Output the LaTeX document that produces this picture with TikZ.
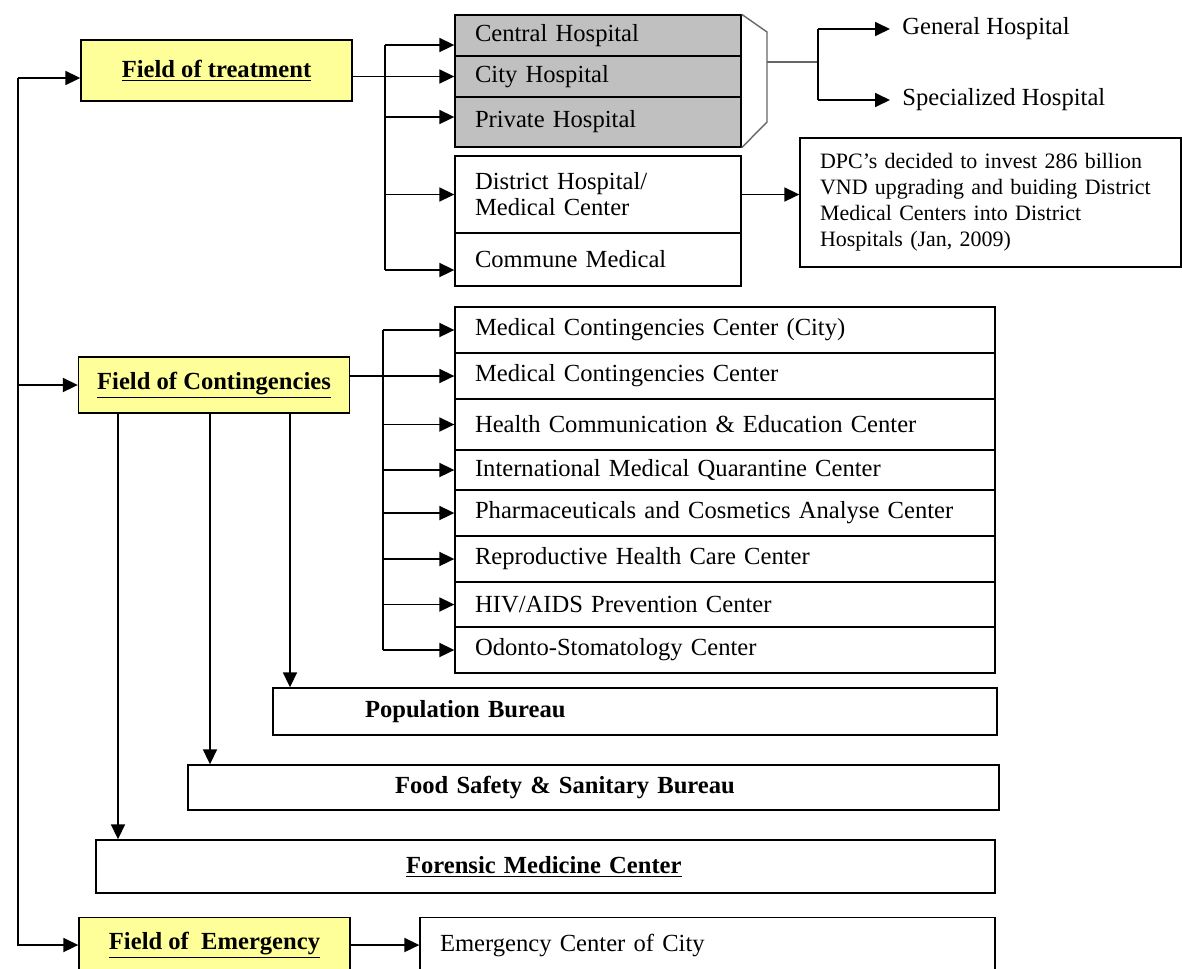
\documentclass[tikz,border=0pt]{standalone}
\usepackage{fontspec}
\setmainfont{Liberation Serif}
\usepackage{xcolor}
\usepackage{tikz}
\usetikzlibrary{arrows.meta}
\definecolor{fieldyellow}{HTML}{FFFF99}
\definecolor{hospgray}{HTML}{C0C0C0}

\begin{document}
\begin{tikzpicture}[x=0.02cm, y=-0.02cm,
    box/.style={draw, rectangle, line width=0.8pt, inner ysep=0pt, font=\fontsize{14}{14.8}\selectfont},
    field/.style={box, fill=fieldyellow, minimum width=5.42cm, font=\fontsize{14}{15}\selectfont\bfseries},
    rowbox/.style={box, inner xsep=0.4cm, align=left},
    bureau/.style={box, align=left, font=\fontsize{14}{15}\selectfont\bfseries},
    arr/.style={-{Triangle[length=3mm,width=2.8mm]}, line width=1pt},
    brace/.style={draw=black!60, line width=0.8pt}]
    \useasboundingbox (0,0) rectangle (1182,968);

    % the three fields
    \node[field, minimum height=1.22cm] (treat) at (216.5,70.5) {\underline{Field of treatment}};
    \node[field, minimum height=1.12cm] (cont) at (214,385) {\underline{Field of Contingencies}};
    \node[field, minimum height=1.1cm] (emer) at (214.5,945) {\underline{Field of\ \ Emergency}};

    % hospitals
    \node[rowbox, fill=hospgray, text width=4.92cm, minimum height=0.82cm] (central) at (598,35.5) {Central Hospital};
    \node[rowbox, fill=hospgray, text width=4.92cm, minimum height=0.82cm] (city) at (598,76.5) {City Hospital};
    \node[rowbox, fill=hospgray, text width=4.92cm, minimum height=1.0cm] (private) at (598,122) {Private Hospital};
    \node[rowbox, text width=4.92cm, minimum height=1.54cm] (district) at (598,194.5) {District Hospital/\\Medical Center};
    \node[rowbox, text width=4.92cm, minimum height=1.06cm] (commune) at (598,259.5) {Commune Medical};

    \node[anchor=west, inner xsep=0.24cm, font=\fontsize{14}{15}\selectfont] (gen) at (890,29) {General Hospital};
    \node[anchor=west, inner xsep=0.24cm, font=\fontsize{14}{15}\selectfont] (spec) at (890,100) {Specialized Hospital};

    \node[rowbox, text width=6.82cm, minimum height=2.58cm, font=\fontsize{12.5}{14.8}\selectfont] (dpc) at (990.5,202.5)
        {DPC’s decided to invest 286 billion\\VND upgrading and buiding District\\Medical Centers into District\\Hospitals (Jan, 2009)};

    % centers under contingencies
    \foreach \i/\y/\h/\t in {1/330/0.92/{Medical Contingencies Center (City)},
                             2/376/0.92/{Medical Contingencies Center},
                             3/424.5/1.02/{Health Communication \& Education Center},
                             4/470/0.80/{International Medical Quarantine Center},
                             5/513/0.92/{Pharmaceuticals and Cosmetics Analyse Center},
                             6/559/0.92/{Reproductive Health Care Center},
                             7/604.5/0.90/{HIV/AIDS Prevention Center},
                             8/650/0.92/{Odonto-Stomatology Center}}
        \node[rowbox, text width=10cm, minimum height=\h cm] (c\i) at (725,\y) {\t};

    \node[bureau, text width=10.8cm, inner xsep=1.84cm, minimum height=0.94cm] (popb) at (635,711.5) {Population Bureau};
    \node[bureau, text width=7.94cm, inner xsep=4.14cm, minimum height=0.9cm] (food) at (593.5,787.5) {Food Safety \& Sanitary Bureau};
    \node[bureau, text width=5.58cm, inner xsep=6.2cm, minimum height=1.06cm] (foren) at (545.5,866.5) {\underline{Forensic Medicine Center}};
    \node[rowbox, text width=10.7cm, minimum height=1.1cm] (ecity) at (707.5,945) {Emergency Center of City};

    % left trunk
    \coordinate (trunk) at (18,78);
    \draw[arr] (trunk) -- (trunk -| treat.west);
    \draw[arr] (trunk |- cont.west) -- (cont.west);
    \draw[arr] (trunk) |- (emer.west);

    % treatment bus
    \coordinate (tbus) at (385,0);
    \coordinate (centralin) at ([yshift=-0.19cm]central.west);
    \coordinate (privatein) at ([yshift=0.1cm]private.west);
    \coordinate (communein) at ([yshift=-0.21cm]commune.west);
    \draw[line width=1pt] (treat.east |- city.west) -- (city.west -| tbus);
    \draw[line width=1pt] (centralin -| tbus) -- (communein -| tbus);
    \foreach \n in {centralin, city.west, privatein, district.west, communein}
        \draw[arr] (\n -| tbus) -- (\n);

    % brace to hospital types
    \coordinate (bt) at (767,32);
    \coordinate (bb) at (767,122);
    \coordinate (brace) at (767,62);
    \coordinate (fork) at (818,62);
    \draw[brace] (central.north east) -- (bt) -- (bb) -- (private.south east);
    \draw[brace] (brace) -- (fork);
    \draw[line width=1pt] (fork |- gen.west) -- (fork |- spec.west);
    \draw[arr] (fork |- gen.west) -- (gen.west);
    \draw[arr] (fork |- spec.west) -- (spec.west);

    \draw[arr] (district.east) -- (district.east -| dpc.west);

    % contingencies bus
    \coordinate (cbus) at (383,0);
    \draw[line width=1pt] (cont.east |- c2.west) -- (c2.west -| cbus);
    \draw[line width=1pt] (c1.west -| cbus) -- (c8.west -| cbus);
    \foreach \i in {1,...,8}
        \draw[arr] (c\i.west -| cbus) -- (c\i.west);

    % bureaus below
    \coordinate (dpop) at (290,0);
    \coordinate (dfood) at (210,0);
    \coordinate (dforen) at (118,0);
    \draw[arr] (cont.south -| dpop) -- (popb.north -| dpop);
    \draw[arr] (cont.south -| dfood) -- (food.north -| dfood);
    \draw[arr] (cont.south -| dforen) -- (foren.north -| dforen);

    \draw[arr] (emer.east) -- (ecity.west);
\end{tikzpicture}
\end{document}
